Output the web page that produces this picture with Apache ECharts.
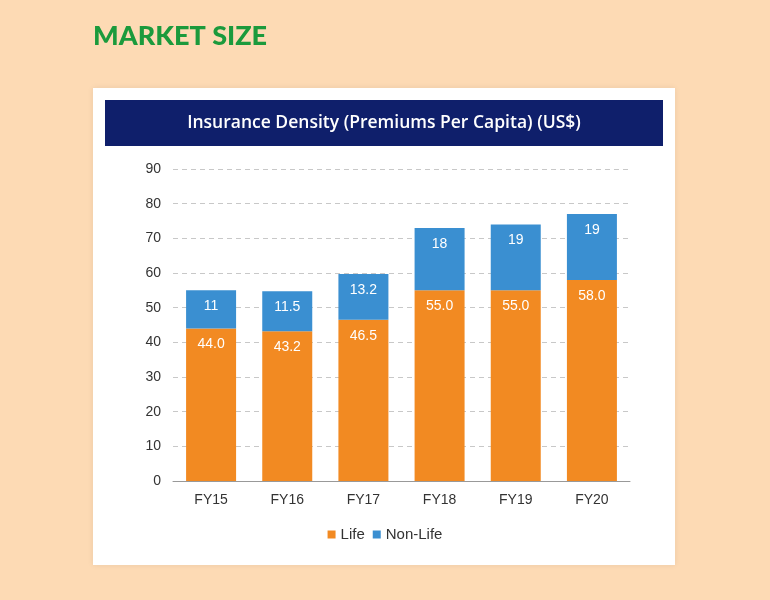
<!DOCTYPE html>
<html lang="en">
  <head>
    <meta charset="UTF-8" />
    <title>Market Size</title>
    <style>
      html, body { margin: 0; padding: 0; background: #fddab4; }
      #container { width: 770px; height: 600px; }
    </style>
    <script src="https://cdn.jsdelivr.net/npm/echarts@6/dist/echarts.min.js"></script>
  </head>
  <body>
    <div id="container"></div>
    <script>
      const categories = ['FY15', 'FY16', 'FY17', 'FY18', 'FY19', 'FY20']
      const life = [44.0, 43.2, 46.5, 55.0, 55.0, 58.0]
      const nonLife = [11, 11.5, 13.2, 18, 19, 19]

      const chart = echarts.init(document.getElementById('container'))

      const labelStyle = {
        show: true,
        position: 'insideTop',
        distance: 9,
        color: '#fff',
        fontSize: 14,
        fontFamily: 'Liberation Sans, Arial, sans-serif',
      }

      chart.setOption({
        backgroundColor: '#fddab4',
        animation: false,
        graphic: {
          elements: [
            {
              type: 'text',
              left: 93,
              top: 23,
              style: {
                text: 'MARKET SIZE',
                font: '900 27px Lato, sans-serif',
                fill: '#1b9a3c',
              },
            },
            {
              type: 'rect',
              shape: { x: 93, y: 88, width: 582, height: 477 },
              style: { fill: '#ffffff', shadowBlur: 6, shadowColor: 'rgba(0,0,0,0.08)' },
              z: -10,
            },
            {
              type: 'rect',
              shape: { x: 105, y: 100, width: 558, height: 46 },
              style: { fill: '#0f1f6b' },
              z: -5,
            },
            {
              type: 'text',
              x: 384,
              y: 123,
              style: {
                text: 'Insurance Density (Premiums Per Capita) (US$)',
                font: '600 17.5px "Open Sans", sans-serif',
                fill: '#ffffff',
                align: 'center',
                verticalAlign: 'middle',
              },
            },
          ],
        },
        grid: { left: 173, right: 140, top: 169, bottom: 119 },
        legend: {
          data: ['Life', 'Non-Life'],
          top: 522,
          left: 'center',
          itemWidth: 8,
          itemHeight: 8,
          itemGap: 8,
          icon: 'rect',
          textStyle: { color: '#333', fontSize: 15, fontFamily: 'Liberation Sans, Arial, sans-serif' },
        },
        xAxis: {
          type: 'category',
          data: categories,
          axisLine: { lineStyle: { color: '#999' } },
          axisTick: { length: 5, lineStyle: { color: '#999' } },
          axisLabel: { color: '#333', fontSize: 14, margin: 12, fontFamily: 'Liberation Sans, Arial, sans-serif' },
        },
        yAxis: {
          type: 'value',
          min: 0,
          max: 90,
          interval: 10,
          axisLine: { show: false },
          axisTick: { show: false },
          axisLabel: { color: '#333', fontSize: 14, margin: 12, fontFamily: 'Liberation Sans, Arial, sans-serif' },
          splitLine: { lineStyle: { color: '#c8c8c8', type: [5, 4] } },
        },
        series: [
          {
            name: 'Life',
            type: 'bar',
            stack: 'total',
            barWidth: 50,
            data: life,
            itemStyle: { color: '#f28a22' },
            label: Object.assign({}, labelStyle, {
              formatter: (p) => p.value.toFixed(1),
            }),
          },
          {
            name: 'Non-Life',
            type: 'bar',
            stack: 'total',
            barWidth: 50,
            data: nonLife,
            itemStyle: { color: '#3a8fd1' },
            label: Object.assign({}, labelStyle, {
              formatter: (p) => String(p.value),
            }),
          },
        ],
      })
    </script>
  </body>
</html>
